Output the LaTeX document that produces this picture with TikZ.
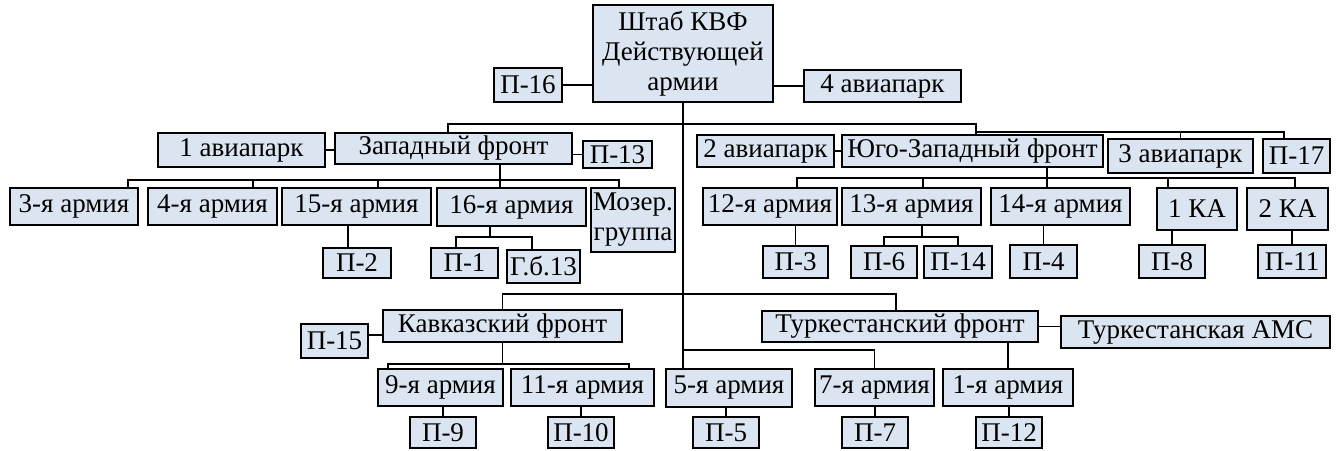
\documentclass[tikz,border=0pt]{standalone}
\usepackage{fontspec}
\setmainfont{Liberation Serif}
\usepackage{tikz}
\definecolor{boxfill}{RGB}{219,229,241}

\begin{document}
\begin{tikzpicture}[x=1pt, y=-1pt, line width=1.8pt,
	box/.style={draw=black, fill=boxfill, rectangle, inner sep=0pt, align=center, font=\fontsize{27}{30}\selectfont},
	sz/.style 2 args={minimum width=#1pt, minimum height=#2pt}]
			\useasboundingbox (0,0) rectangle (1340,450);
			% headquarters and fronts
			\node (hq) [box, sz={180}{97}] at (683,53.5) {Штаб КВФ\\Действующей\\армии};
			\node (p16) [box, sz={68}{34}] at (528,85) {П-16};
			\node (ap4) [box, sz={157}{32}] at (882.5,86) {4 авиапарк};
			\node (ap1) [box, sz={167}{34}] at (241.5,150) {1 авиапарк};
			\node (west) [box, sz={237}{31}] at (453.5,148.5) {Западный фронт};
			\node (p13) [box, sz={69}{27}] at (617.5,154.5) {П-13};
			\node (ap2) [box, sz={137}{32}] at (765.5,151) {2 авиапарк};
			\node (sw) [box, sz={261}{32}] at (972.5,151) {Юго-Западный фронт};
			\node (ap3) [box, sz={145}{34}] at (1180.5,156) {3 авиапарк};
			\node (p17) [box, sz={67}{34}] at (1296.5,156) {П-17};
			% armies of the western and south-western fronts
			\node (a3) [box, sz={128}{37}] at (74,206.5) {3-я армия};
			\node (a4) [box, sz={129}{37}] at (212.5,206.5) {4-я армия};
			\node (a15) [box, sz={149}{37}] at (356.5,206.5) {15-я армия};
			\node (a16) [box, sz={149}{38}] at (511.5,207) {16-я армия};
			\node (moz) [box, sz={84}{64}] at (633,220) {Мозер.\\группа};
			\node (a12) [box, sz={134}{37}] at (770,206.5) {12-я армия};
			\node (a13) [box, sz={139}{37}] at (911.5,206.5) {13-я армия};
			\node (a14) [box, sz={139}{37}] at (1060.5,206.5) {14-я армия};
			\node (ka1) [box, sz={80}{42}] at (1197,209) {1 КА};
			\node (ka2) [box, sz={81}{42}] at (1287.5,209) {2 КА};
			\node (p2) [box, sz={68}{30}] at (357,263) {П-2};
			\node (p1) [box, sz={67}{30}] at (464.5,263) {П-1};
			\node (gb13) [box, sz={73}{33}] at (543.5,266.5) {Г.б.13};
			\node (p3) [box, sz={65}{32}] at (795.5,262) {П-3};
			\node (p6) [box, sz={66}{32}] at (884,262) {П-6};
			\node (p14) [box, sz={68}{32}] at (958,262) {П-14};
			\node (p4) [box, sz={67}{33}] at (1043.5,261.5) {П-4};
			\node (p8) [box, sz={66}{33}] at (1172,261.5) {П-8};
			\node (p11) [box, sz={68}{33}] at (1292,261.5) {П-11};
			% caucasian and turkestan fronts
			\node (cauc) [box, sz={239}{32}] at (502.5,326) {Кавказский фронт};
			\node (p15) [box, sz={67}{34}] at (334.5,341) {П-15};
			\node (turk) [box, sz={276}{31}] at (900,326.5) {Туркестанский фронт};
			\node (tams) [box, sz={269}{32}] at (1195.5,332) {Туркестанская АМС};
			\node (a9) [box, sz={125}{37}] at (440.5,387.5) {9-я армия};
			\node (a11) [box, sz={143}{37}] at (582.5,387.5) {11-я армия};
			\node (a5) [box, sz={126}{38}] at (729,388) {5-я армия};
			\node (a7) [box, sz={119}{37}] at (874.5,387.5) {7-я армия};
			\node (a1) [box, sz={130}{37}] at (1008,387.5) {1-я армия};
			\node (p9) [box, sz={66}{31}] at (443,432.5) {П-9};
			\node (p10) [box, sz={66}{31}] at (581,432.5) {П-10};
			\node (p5) [box, sz={66}{31}] at (726,432.5) {П-5};
			\node (p7) [box, sz={66}{31}] at (875,432.5) {П-7};
			\node (p12) [box, sz={66}{31}] at (1009,432.5) {П-12};
			
			\coordinate (mbus) at (683,124);
			\coordinate (wbus) at (500,180);
			\coordinate (b16) at (490,237);
			\coordinate (swbus) at (1047,178);
			\coordinate (b13) at (922,237);
			\coordinate (cbus) at (683,294);
			\coordinate (cb) at (502.5,364);
			\coordinate (tb) at (683,350);
			
			% top level
			\draw (hq.south) -- (hq.south |- a5.north);
			\draw (p16.east) -- (p16.east -| hq.west);
			\draw (ap4.west) -- (ap4.west -| hq.east);
			\draw ([xshift=-5.5pt]west.north) |- (mbus) -| ([xshift=3.5pt]sw.north);
			\draw (ap1.east) -- (ap1.east -| west.west);
			\draw (p13.west) -- (p13.west -| west.east);
			\draw (ap2.east) -- (sw.west);
			\draw ([xshift=3.5pt,yshift=2pt]sw.north) -| (ap3.north);
			\draw ([xshift=3.5pt,yshift=2pt]sw.north) -| ([xshift=-12.5pt]p17.north);
			% western front
			\draw ([xshift=46.5pt]west.south) -- ([xshift=-11.5pt]a16.north);
			\draw ([xshift=54pt]a3.north) |- (wbus) -| ([xshift=-14pt]moz.north);
			\draw ([xshift=40.5pt]a4.north) |- (wbus);
			\draw ([xshift=21.5pt]a15.north) |- (wbus);
			\draw ([xshift=-9pt]p2.north) -- ([xshift=-9pt]p2.north |- a15.south);
			\draw ([xshift=-21.5pt]a16.south) -- (b16);
			\draw ([xshift=-8.5pt]p1.north) |- (b16) -| ([xshift=-11.5pt]gb13.north);
			% south-western front
			\draw ([xshift=74.5pt]sw.south) -- ([xshift=-13.5pt]a14.north);
			\draw ([xshift=27pt]a12.north) |- (swbus) -| ([xshift=7.5pt]ka2.north);
			\draw ([xshift=11.5pt]a13.north) |- (swbus);
			\draw ([xshift=-29pt]ka1.north) |- (swbus);
			\draw (p3.north) -- (p3.north |- a12.south);
			\draw ([xshift=10.5pt]a13.south) -- (b13);
			\draw (p6.north) |- (b13) -| (p14.north);
			\draw (p4.north) -- (p4.north |- a14.south);
			\draw (p8.north) -- (p8.north |- ka1.south);
			\draw (p11.north) -- (p11.north |- ka2.south);
			% caucasian and turkestan fronts
			\draw (cauc.north) |- (cbus) -| ([xshift=-4pt]turk.north);
			\draw ([yshift=-9pt]cauc.west) -- ([yshift=-9pt]cauc.west -| p15.east);
			\draw (cauc.south) -- (cb);
			\draw ([xshift=-52.5pt]a9.north) |- (cb) -| ([xshift=46.5pt]a11.north);
			\draw (p9.north) -- (p9.north |- a9.south);
			\draw (p10.north) -- (p10.north |- a11.south);
			\draw (turk.east) -- (turk.east -| tams.west);
			\draw (a1.north) -- (a1.north |- turk.south);
			\draw (tb) -| (a7.north);
			\draw (p5.north) -- (p5.north |- a5.south);
			\draw (p7.north) -- (p7.north |- a7.south);
			\draw (p12.north) -- (p12.north |- a1.south);
		\end{tikzpicture}
\end{document}
